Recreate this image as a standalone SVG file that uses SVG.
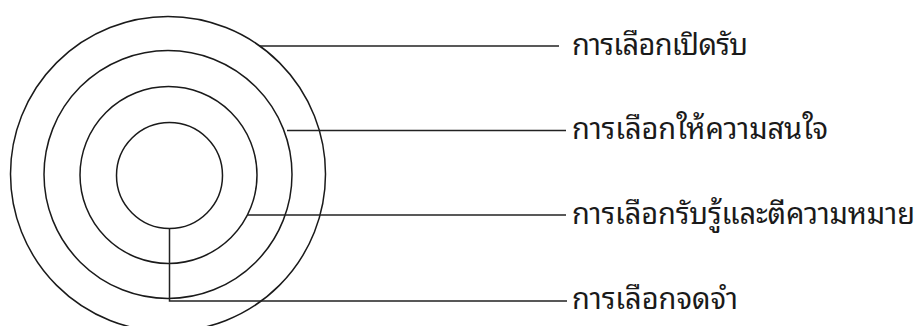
<svg xmlns="http://www.w3.org/2000/svg" width="921" height="326" viewBox="0 0 921 326">
<style>
.ring{fill:none;stroke:#1a1a1a;stroke-width:1.5}
.conn{fill:none;stroke:#222;stroke-width:1.5}
.lbl{font-family:"Noto Sans Thai Looped","Tahoma","Loma","Garuda","Noto Sans Thai","Noto Sans","DejaVu Sans",sans-serif;font-size:29px;fill:#1a1a1a}
</style>
<rect width="921" height="326" fill="#fff"/>
<g id="ring-exposure">
<circle class="ring" cx="168" cy="174" r="157.5"/>
<text class="lbl" x="572" y="55" textLength="176">การเลือกเปิดรับ</text>
</g>
<g id="ring-attention">
<circle class="ring" cx="168" cy="174.5" r="124"/>
<text class="lbl" x="572" y="138.5" textLength="256">การเลือกให้ความสนใจ</text>
</g>
<g id="ring-perception">
<circle class="ring" cx="168.5" cy="175" r="88.5"/>
<text class="lbl" x="572" y="224" textLength="343">การเลือกรับรู้และตีความหมาย</text>
</g>
<g id="ring-retention">
<circle class="ring" cx="169.5" cy="175.5" r="53"/>
<text class="lbl" x="572" y="309" textLength="166">การเลือกจดจำ</text>
</g>
<g id="connectors">
<path class="conn" d="M260 46H559"/>
<path class="conn" d="M287 130.5H566"/>
<path class="conn" d="M248 215H566"/>
<path class="conn" d="M169.5 228.5V301H567"/>
</g>
</svg>
